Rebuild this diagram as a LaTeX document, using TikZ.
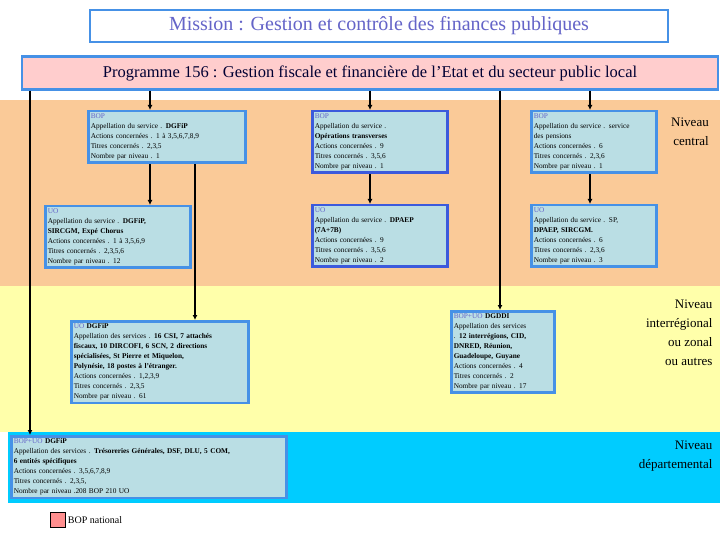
\documentclass[tikz,border=0pt]{standalone}
\usepackage{fontspec}
\setmainfont{Liberation Serif}
\usetikzlibrary{arrows.meta}
\begin{document}
\definecolor{orb}{RGB}{250,202,152}
\definecolor{yeb}{RGB}{255,255,170}
\definecolor{cyb}{RGB}{0,204,255}
\definecolor{bx}{RGB}{186,222,228}
\definecolor{bd}{RGB}{70,145,230}
\definecolor{bdd}{RGB}{60,90,220}
\definecolor{hd}{RGB}{100,100,200}
\definecolor{pk}{RGB}{255,205,205}
\begin{tikzpicture}[x=1pt,y=-1pt,
 box/.style={draw=bd,line width=2.5pt,fill=bx,anchor=north west,align=left,inner sep=2.5pt,font=\fontsize{7.3}{10}\selectfont},
 arr/.style={line width=1.8pt,-{Latex[length=5pt,width=5pt]}},
 lvl/.style={font=\fontsize{13}{19}\selectfont,align=right}]
\useasboundingbox (0,0) rectangle (720,540);
\fill[orb] (0,100) rectangle (720,286);
\fill[yeb] (0,286) rectangle (720,432);
\fill[cyb] (8,432) rectangle (720,503);
\node[draw=bd,line width=2.5pt,fill=white,minimum width=578pt,minimum height=32pt,font=\fontsize{20}{22}\selectfont,text=hd] (mis) at (379,26) {Mission : Gestion et contrôle des finances publiques};
\node[draw=bd,line width=2.5pt,fill=pk,minimum width=696pt,minimum height=33pt,font=\fontsize{16.5}{19}\selectfont,text=black!80!blue] (prog) at (370,73) {Programme 156 : Gestion fiscale et financière de l’Etat et du secteur public local};
\node[box,text width=152pt] (b1) at (87,110) {{\color{hd}BOP}\\Appellation du service . \textbf{DGFiP}\\Actions concernées . 1 à 3,5,6,7,8,9\\Titres concernés . 2,3,5\\Nombre par niveau . 1};
\node[box,text width=140pt] (u1) at (44,205) {{\color{hd}UO}\\Appellation du service . \textbf{DGFiP,}\\\textbf{SIRCGM, Expé Chorus}\\Actions concernées . 1 à 3,5,6,9\\Titres concernés . 2,3,5,6\\Nombre par niveau . 12};
\node[box,draw=bdd,text width=130pt] (b2) at (311,110) {{\color{hd}BOP}\\Appellation du service .\\\textbf{Opérations transverses}\\Actions concernées . 9\\Titres concernés . 3,5,6\\Nombre par niveau . 1};
\node[box,draw=bdd,text width=130pt] (u2) at (311,204) {{\color{hd}UO}\\Appellation du service . \textbf{DPAEP}\\\textbf{(7A+7B)}\\Actions concernées . 9\\Titres concernés . 3,5,6\\Nombre par niveau . 2};
\node[box,text width=120pt] (b3) at (530,110) {{\color{hd}BOP}\\Appellation du service . service\\des pensions\\Actions concernées . 6\\Titres concernés . 2,3,6\\Nombre par niveau . 1};
\node[box,text width=120pt] (u3) at (530,204) {{\color{hd}UO}\\Appellation du service . SP,\\\textbf{DPAEP, SIRCGM.}\\Actions concernées . 6\\Titres concernés . 2,3,6\\Nombre par niveau . 3};
\node[box,text width=172pt] (u4) at (70,320) {{\color{hd}UO} \textbf{DGFiP}\\Appellation des services . \textbf{16 CSI, 7 attachés}\\\textbf{fiscaux, 10 DIRCOFI, 6 SCN, 2 directions}\\\textbf{spécialisées, St Pierre et Miquelon,}\\\textbf{Polynésie, 18 postes à l'étranger.}\\Actions concernées . 1,2,3,9\\Titres concernés . 2,3,5\\Nombre par niveau . 61};
\node[box,text width=98pt] (d1) at (450,310) {{\color{hd}BOP+UO} \textbf{DGDDI}\\Appellation des services\\. \textbf{12 interrégions, CID,}\\\textbf{DNRED, Réunion,}\\\textbf{Guadeloupe, Guyane}\\Actions concernées . 4\\Titres concernés . 2\\Nombre par niveau . 17};
\node[box,text width=270pt] (g1) at (10,435) {{\color{hd}BOP+UO} \textbf{DGFiP}\\Appellation des services . \textbf{Trésoreries Générales, DSF, DLU, 5 COM,}\\\textbf{6 entités spécifiques}\\Actions concernées . 3,5,6,7,8,9\\Titres concernés . 2,3,5,\\Nombre par niveau .208 BOP 210 UO};
\node[lvl] (n1) at (690,132) {Niveau\\central};
\node[lvl,anchor=north east] (n2) at (716,296) {Niveau\\interrégional\\ou zonal\\ou autres};
\node[lvl,anchor=north east] (n3) at (716,437) {Niveau\\départemental};
\node[draw=black,fill=pk!70!red,minimum size=15pt,inner sep=0pt] (lg) at (58,520) {};
\node[anchor=west,font=\fontsize{10}{12}\selectfont,inner sep=2pt] (lgt) at (lg.east) {BOP national};
\draw[arr] (prog.south -| 150,0) -- (b1.north -| 150,0);
\draw[arr] (b1.south -| 150,0) -- (u1.north -| 150,0);
\draw[arr] (b1.south -| 195,0) -- (u4.north -| 195,0);
\draw[arr] (prog.south -| 30,0) -- (g1.north -| 30,0);
\draw[arr] (prog.south -| 370,0) -- (b2.north -| 370,0);
\draw[arr] (b2.south -| 370,0) -- (u2.north -| 370,0);
\draw[arr] (prog.south -| 500,0) -- (d1.north -| 500,0);
\draw[arr] (prog.south -| 590,0) -- (b3.north -| 590,0);
\draw[arr] (b3.south -| 590,0) -- (u3.north -| 590,0);
\end{tikzpicture}
\end{document}
